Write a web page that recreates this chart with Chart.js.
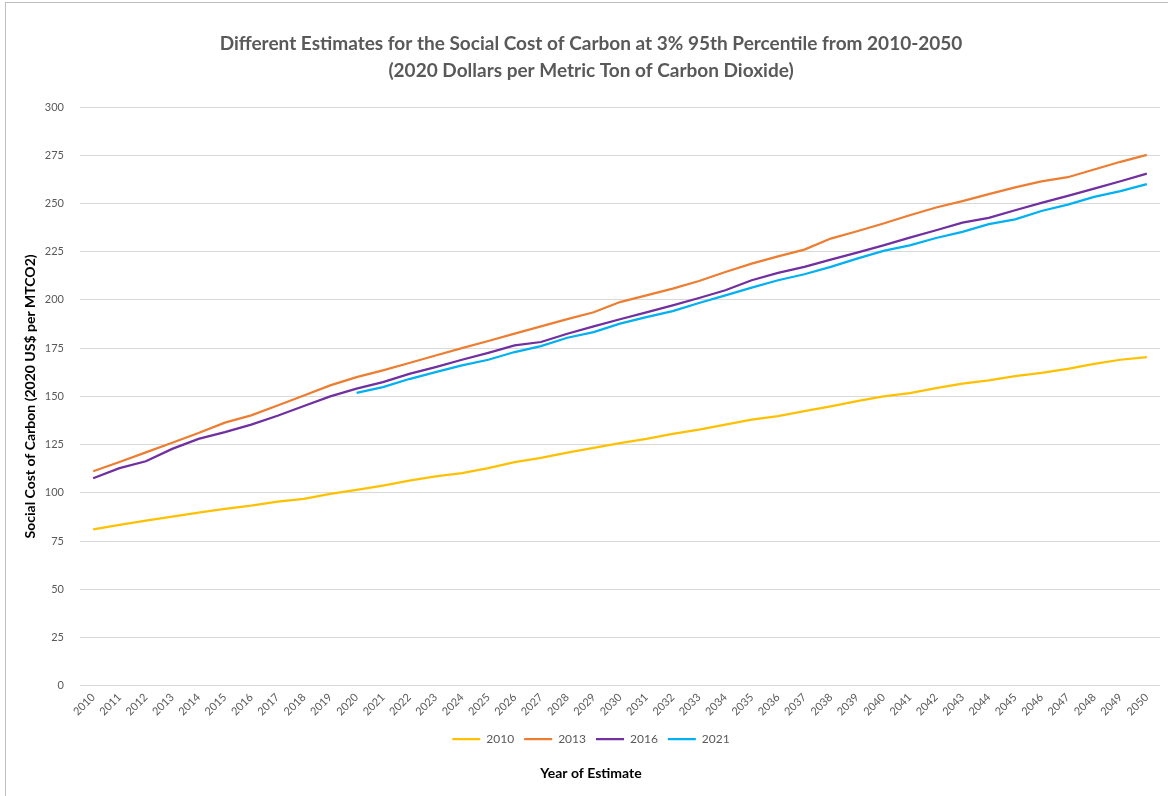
<!DOCTYPE html>
<html>
<head>
<meta charset="utf-8">
<script src="https://cdn.jsdelivr.net/npm/chart.js@4.4.0/dist/chart.umd.min.js"></script>
<style>
    html, body { margin: 0; padding: 0; background: #fff; }
    #frame {
        position: absolute; left: 5px; top: 2px; width: 1200px; height: 830px;
        border-top: 1px solid #bfbfbf; border-left: 1px solid #bfbfbf;
    }
    #wrap { position: absolute; left: 0; top: 0; width: 1168px; height: 796px; }
</style>
</head>
<body>
<div id="frame"></div>
<div id="wrap"><canvas id="scc-chart"></canvas></div>
<script>
// Năm ước tính (trục X)
const years = ['2010','2011','2012','2013','2014','2015','2016','2017','2018','2019',
    '2020','2021','2022','2023','2024','2025','2026','2027','2028','2029',
    '2030','2031','2032','2033','2034','2035','2036','2037','2038','2039',
    '2040','2041','2042','2043','2044','2045','2046','2047','2048','2049','2050'];

// Ước tính năm 2010
const est2010 = [81.1, 83.4, 85.6, 87.7, 89.8, 91.7, 93.4, 95.5, 96.9, 99.5,
    101.5, 103.8, 106.4, 108.5, 110.2, 112.8, 115.9, 118.1, 120.9, 123.3,
    125.8, 128, 130.6, 132.8, 135.4, 138, 139.8, 142.4, 144.8, 147.6,
    150, 151.7, 154.3, 156.6, 158.3, 160.5, 162.2, 164.3, 166.9, 169, 170.4];

// Ước tính năm 2013
const est2013 = [111.2, 116, 121, 126, 131, 136.4, 140.2, 145.3, 150.5, 155.7,
    160, 163.5, 167.3, 171.2, 175, 178.7, 182.5, 186.3, 190.1, 193.6,
    198.9, 202.4, 205.9, 209.8, 214.5, 218.8, 222.6, 226.1, 231.8, 235.6,
    239.6, 243.9, 247.9, 251.2, 254.8, 258.3, 261.5, 263.6, 267.6, 271.6, 275.2];

// Ước tính năm 2016
const est2016 = [107.6, 112.8, 116.4, 122.8, 128, 131.5, 135.4, 140, 145, 150,
    154, 157.4, 161.7, 165.2, 169, 172.6, 176.4, 178.2, 182.5, 186.3,
    190, 193.6, 197.2, 201, 205, 210.2, 214, 217.1, 220.9, 224.5,
    228.3, 232.3, 236.1, 240.1, 242.5, 246.5, 250.3, 253.9, 257.7, 261.5, 265.5];

// Ước tính năm 2021 (bắt đầu từ 2020)
const est2021 = [null, null, null, null, null, null, null, null, null, null,
    151.8, 154.8, 159, 162.6, 166.1, 169, 173, 176.1, 180.4, 183.3,
    187.7, 191.1, 194.2, 198.4, 202.4, 206.4, 210.2, 213.3, 217.1, 221.4,
    225.4, 228.3, 232.1, 235.3, 239.3, 241.8, 246.1, 249.4, 253.4, 256.4, 260];

const seriesNames = ['2010', '2013', '2016', '2021'];
const seriesColors = ['#FFC000', '#ED7D31', '#7030A0', '#00B0F0'];
const yTicks = [0, 25, 50, 75, 100, 125, 150, 175, 200, 225, 250, 275, 300];

const FONT = 'Lato, "Liberation Sans", sans-serif';
const GRAY = '#595959';

function makeDataset(i, values) {
    return {
        label: seriesNames[i],
        data: values,
        borderColor: seriesColors[i],
        backgroundColor: seriesColors[i],
        borderWidth: 2.25,
        pointRadius: 0,
        pointHoverRadius: 0,
        tension: 0,
        fill: false,
        spanGaps: false
    };
}

const ctx = document.getElementById('scc-chart');
new Chart(ctx, {
    type: 'line',
    data: {
        labels: years,
        datasets: [
            makeDataset(0, est2010),
            makeDataset(1, est2013),
            makeDataset(2, est2016),
            makeDataset(3, est2021)
        ]
    },
    options: {
        responsive: true,
        maintainAspectRatio: false,
        animation: false,
        layout: { padding: { left: 22, right: 8, top: 30, bottom: 14 } },
        scales: {
            x: {
                offset: true,
                grid: { display: false, drawTicks: false },
                border: { display: false },
                ticks: {
                    autoSkip: false,
                    minRotation: 45,
                    maxRotation: 45,
                    padding: 5,
                    color: GRAY,
                    font: { family: FONT, size: 11 }
                }
            },
            y: {
                min: 0,
                max: 300,
                afterBuildTicks: function(axis) {
                    axis.ticks = yTicks.map(v => ({ value: v }));
                },
                afterFit: function(axis) {
                    axis.width = 58;
                },
                grid: { color: '#d9d9d9', lineWidth: 1, drawTicks: false },
                border: { display: false },
                ticks: {
                    padding: 16,
                    color: GRAY,
                    font: { family: FONT, size: 11 }
                },
                title: {
                    display: true,
                    text: 'Social Cost of Carbon (2020 US$ per MTCO2)',
                    color: '#000',
                    font: { family: FONT, size: 14, weight: 'bold' },
                    padding: { top: 0, bottom: 0 }
                }
            }
        },
        plugins: {
            title: {
                display: true,
                text: ['Different Estimates for the Social Cost of Carbon at 3% 95th Percentile from 2010-2050',
                       '(2020 Dollars per Metric Ton of Carbon Dioxide)'],
                color: GRAY,
                font: { family: FONT, size: 19, weight: 'bold', lineHeight: '27px' },
                padding: { top: 0, bottom: 23 }
            },
            subtitle: {
                display: true,
                position: 'bottom',
                text: 'Year of Estimate',
                color: '#000',
                font: { family: FONT, size: 14, weight: 'bold' },
                padding: { top: 10, bottom: 0 }
            },
            legend: {
                position: 'bottom',
                labels: {
                    usePointStyle: true,
                    pointStyle: 'line',
                    pointStyleWidth: 28,
                    boxWidth: 28,
                    color: GRAY,
                    padding: 10,
                    font: { family: FONT, size: 12 }
                }
            },
            tooltip: { enabled: false }
        }
    }
});
</script>
</body>
</html>
